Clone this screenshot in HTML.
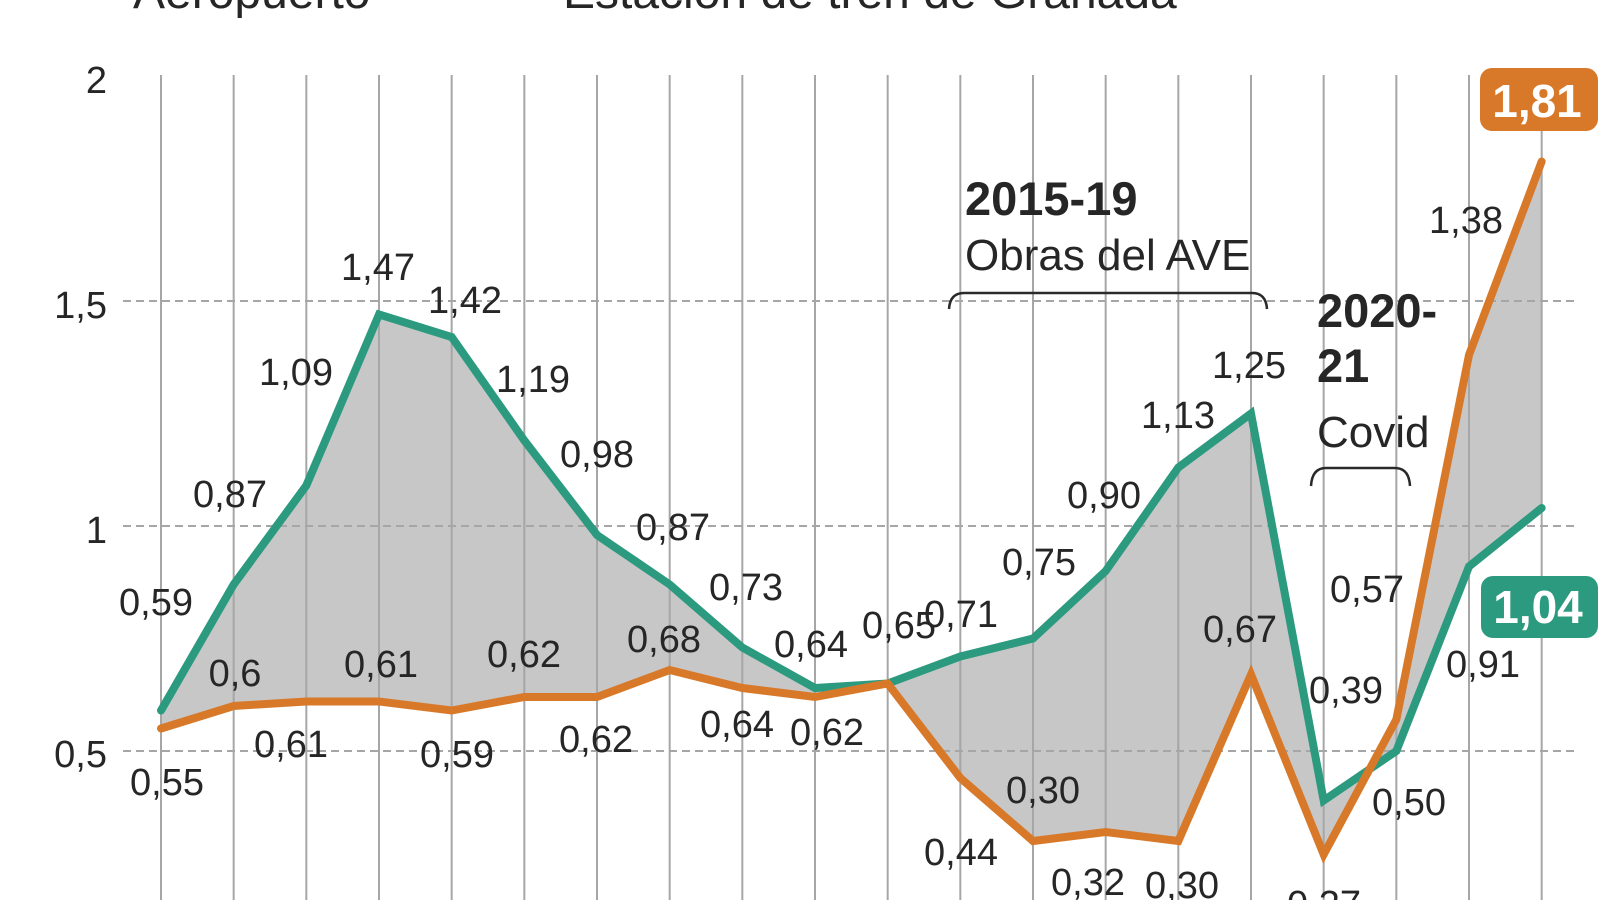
<!DOCTYPE html>
<html>
<head>
<meta charset="utf-8">
<style>
  html, body { margin: 0; padding: 0; background: #ffffff; }
  body { width: 1600px; height: 900px; overflow: hidden; }
  svg { display: block; }
  text { font-family: "Liberation Sans", Arial, sans-serif; fill: #262626; }
  .lbl { font-size: 38px; text-anchor: middle; }
  .ax { font-size: 38px; text-anchor: end; }
  .ann { font-size: 44px; }
  .annb { font-size: 47px; font-weight: bold; }
  .leg { font-size: 48px; }
  .badge { font-size: 46px; font-weight: bold; fill: #ffffff; text-anchor: middle; }
</style>
</head>
<body>
<svg width="1600" height="900" viewBox="0 0 1600 900" xmlns="http://www.w3.org/2000/svg">
  <rect x="0" y="0" width="1600" height="900" fill="#ffffff"/>

  <!-- legend (cut off at top) -->
  <text class="leg" x="133" y="8">Aeropuerto</text>
  <text class="leg" x="563" y="8">Estación de tren de Granada</text>

  <!-- fill between series -->
  <polygon fill="#c7c7c7" points="
    161,710.5 233.67,584.5 306.33,485.5 379,314.5 451.67,337 524.33,440.5 597,535 669.67,584.5 742.33,647.5 815,688 887.67,683.5 960.33,656.5 1033,638.5 1105.67,571 1178.33,467.5 1251,413.5 1323.67,800.5 1396.33,751 1469,566.5 1541.67,508
    1541.67,161.5 1469,355 1396.33,719.5 1323.67,854.5 1251,674.5 1178.33,841 1105.67,832 1033,841 960.33,778 887.67,683.5 815,697 742.33,688 669.67,670 597,697 524.33,697 451.67,710.5 379,701.5 306.33,701.5 233.67,706 161,728.5"/>

  <!-- vertical gridlines -->
  <g stroke="#a6a6a6" stroke-width="2">
    <line x1="161" y1="75" x2="161" y2="900"/>
    <line x1="233.67" y1="75" x2="233.67" y2="900"/>
    <line x1="306.33" y1="75" x2="306.33" y2="900"/>
    <line x1="379" y1="75" x2="379" y2="900"/>
    <line x1="451.67" y1="75" x2="451.67" y2="900"/>
    <line x1="524.33" y1="75" x2="524.33" y2="900"/>
    <line x1="597" y1="75" x2="597" y2="900"/>
    <line x1="669.67" y1="75" x2="669.67" y2="900"/>
    <line x1="742.33" y1="75" x2="742.33" y2="900"/>
    <line x1="815" y1="75" x2="815" y2="900"/>
    <line x1="887.67" y1="75" x2="887.67" y2="900"/>
    <line x1="960.33" y1="75" x2="960.33" y2="900"/>
    <line x1="1033" y1="75" x2="1033" y2="900"/>
    <line x1="1105.67" y1="75" x2="1105.67" y2="900"/>
    <line x1="1178.33" y1="75" x2="1178.33" y2="900"/>
    <line x1="1251" y1="75" x2="1251" y2="900"/>
    <line x1="1323.67" y1="75" x2="1323.67" y2="900"/>
    <line x1="1396.33" y1="75" x2="1396.33" y2="900"/>
    <line x1="1469" y1="75" x2="1469" y2="900"/>
    <line x1="1541.67" y1="75" x2="1541.67" y2="900"/>
  </g>

  <!-- horizontal dashed gridlines -->
  <g stroke="#a6a6a6" stroke-width="2" stroke-dasharray="8,5">
    <line x1="123" y1="301" x2="1578" y2="301"/>
    <line x1="123" y1="526" x2="1578" y2="526"/>
    <line x1="123" y1="751" x2="1578" y2="751"/>
  </g>

  <!-- y axis labels -->
  <text class="ax" x="107" y="93">2</text>
  <text class="ax" x="107" y="318">1,5</text>
  <text class="ax" x="107" y="543">1</text>
  <text class="ax" x="107" y="767">0,5</text>

  <!-- series lines -->
  <polyline fill="none" stroke="#2c9a7e" stroke-width="8" stroke-linejoin="miter" stroke-miterlimit="3" stroke-linecap="round"
    points="161,710.5 233.67,584.5 306.33,485.5 379,314.5 451.67,337 524.33,440.5 597,535 669.67,584.5 742.33,647.5 815,688 887.67,683.5 960.33,656.5 1033,638.5 1105.67,571 1178.33,467.5 1251,413.5 1323.67,800.5 1396.33,751 1469,566.5 1541.67,508"/>
  <polyline fill="none" stroke="#d8792a" stroke-width="8" stroke-linejoin="miter" stroke-miterlimit="3" stroke-linecap="round"
    points="161,728.5 233.67,706 306.33,701.5 379,701.5 451.67,710.5 524.33,697 597,697 669.67,670 742.33,688 815,697 887.67,683.5 960.33,778 1033,841 1105.67,832 1178.33,841 1251,674.5 1323.67,854.5 1396.33,719.5 1469,355 1541.67,161.5"/>

  <!-- green labels -->
  <text class="lbl" x="156" y="615">0,59</text>
  <text class="lbl" x="230" y="507">0,87</text>
  <text class="lbl" x="296" y="385">1,09</text>
  <text class="lbl" x="378" y="280">1,47</text>
  <text class="lbl" x="465" y="313">1,42</text>
  <text class="lbl" x="533" y="392">1,19</text>
  <text class="lbl" x="597" y="467">0,98</text>
  <text class="lbl" x="673" y="540">0,87</text>
  <text class="lbl" x="746" y="600">0,73</text>
  <text class="lbl" x="811" y="657">0,64</text>
  <text class="lbl" x="899" y="638">0,65</text>
  <text class="lbl" x="961" y="627">0,71</text>
  <text class="lbl" x="1039" y="575">0,75</text>
  <text class="lbl" x="1104" y="508">0,90</text>
  <text class="lbl" x="1178" y="428">1,13</text>
  <text class="lbl" x="1249" y="378">1,25</text>
  <text class="lbl" x="1346" y="703">0,39</text>
  <text class="lbl" x="1409" y="815">0,50</text>
  <text class="lbl" x="1483" y="677">0,91</text>

  <!-- orange labels -->
  <text class="lbl" x="167" y="795">0,55</text>
  <text class="lbl" x="235" y="686">0,6</text>
  <text class="lbl" x="291" y="757">0,61</text>
  <text class="lbl" x="381" y="677">0,61</text>
  <text class="lbl" x="457" y="767">0,59</text>
  <text class="lbl" x="524" y="667">0,62</text>
  <text class="lbl" x="596" y="752">0,62</text>
  <text class="lbl" x="664" y="652">0,68</text>
  <text class="lbl" x="737" y="737">0,64</text>
  <text class="lbl" x="827" y="745">0,62</text>
  <text class="lbl" x="961" y="865">0,44</text>
  <text class="lbl" x="1043" y="803">0,30</text>
  <text class="lbl" x="1088" y="895">0,32</text>
  <text class="lbl" x="1182" y="898">0,30</text>
  <text class="lbl" x="1240" y="642">0,67</text>
  <text class="lbl" x="1324" y="917">0,27</text>
  <text class="lbl" x="1367" y="602">0,57</text>
  <text class="lbl" x="1466" y="233">1,38</text>

  <!-- annotations -->
  <text class="annb" x="965" y="215">2015-19</text>
  <text class="ann" x="965" y="270">Obras del AVE</text>
  <path d="M949,309 Q950,293 964,293 L1252,293 Q1266,293 1267,309" fill="none" stroke="#2a2a2a" stroke-width="2.5"/>

  <text class="annb" x="1317" y="327">2020-</text>
  <text class="annb" x="1317" y="382">21</text>
  <text class="ann" x="1317" y="447">Covid</text>
  <path d="M1311,486 Q1312,468 1326,468 L1395,468 Q1409,468 1410,486" fill="none" stroke="#2a2a2a" stroke-width="2.5"/>

  <!-- end badges -->
  <rect x="1480" y="68" width="118" height="63" rx="12" ry="12" fill="#d8792a"/>
  <text class="badge" x="1537" y="117">1,81</text>
  <rect x="1481" y="576" width="117" height="62" rx="12" ry="12" fill="#2c9a7e"/>
  <text class="badge" x="1538" y="623">1,04</text>
</svg>
</body>
</html>
